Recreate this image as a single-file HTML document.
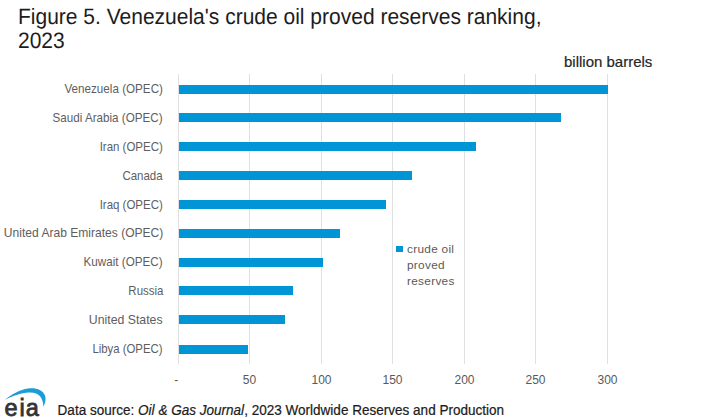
<!DOCTYPE html>
<html><head><meta charset="utf-8"><style>
html,body{margin:0;padding:0;background:#fff;width:718px;height:418px;overflow:hidden;position:relative;font-family:"Liberation Sans",sans-serif}
.t{position:absolute;left:18px;font-size:21px;color:#1c1c1c;white-space:nowrap;line-height:24px;transform:scale(1,1.06);transform-origin:0 19px;text-rendering:geometricPrecision}
.gl{position:absolute;top:74px;height:290px;width:1px;background:#e0e0e0}
.bar{position:absolute;left:179px;height:9px;background:#0096d6}
.cl{position:absolute;right:555px;font-size:11.6px;line-height:18px;color:#5e5e5e;white-space:nowrap;text-align:right;transform:scale(1,1.05);transform-origin:100% 13px}
.tk{position:absolute;top:373px;width:40px;text-align:center;font-size:12px;line-height:14px;color:#595959}
.bb{position:absolute;left:564px;top:53px;font-size:15px;line-height:18px;color:#262626;white-space:nowrap;-webkit-text-stroke:0.2px #262626}
.lg{position:absolute;left:396px;top:246px;width:7px;height:6px;background:#0096d6}
.lt{position:absolute;left:407px;top:240.5px;font-size:11.8px;line-height:16.2px;color:#595959;letter-spacing:0.3px}
.ft{position:absolute;left:57.6px;top:403px;font-size:13.54px;line-height:16px;color:#1c1c1c;white-space:nowrap;transform:scale(1,1.12);transform-origin:0 13px;-webkit-text-stroke:0.2px #1c1c1c}
</style></head><body>
<div class="t" style="top:6px">Figure 5. Venezuela's crude oil proved reserves ranking,</div>
<div class="t" style="top:30.2px">2023</div>
<div class="bb">billion barrels</div>
<div class="gl" style="left:178px"></div>
<div class="gl" style="left:249px"></div>
<div class="gl" style="left:321px"></div>
<div class="gl" style="left:392px"></div>
<div class="gl" style="left:464px"></div>
<div class="gl" style="left:535px"></div>
<div class="gl" style="left:607px"></div>
<div class="bar" style="top:85px;width:429px"></div>
<div class="cl" style="top:80.20px;transform:scale(1.006,1.05)">Venezuela (OPEC)</div>
<div class="bar" style="top:113px;width:382px"></div>
<div class="cl" style="top:109.03px;transform:scale(1.004,1.05)">Saudi Arabia (OPEC)</div>
<div class="bar" style="top:142px;width:297px"></div>
<div class="cl" style="top:137.86px;transform:scale(0.99,1.05)">Iran (OPEC)</div>
<div class="bar" style="top:171px;width:233px"></div>
<div class="cl" style="top:166.69px;transform:scale(0.99,1.05)">Canada</div>
<div class="bar" style="top:200px;width:207px"></div>
<div class="cl" style="top:195.52px;transform:scale(0.99,1.05)">Iraq (OPEC)</div>
<div class="bar" style="top:229px;width:161px"></div>
<div class="cl" style="top:224.35px;transform:scale(1.04,1.05)">United Arab Emirates (OPEC)</div>
<div class="bar" style="top:258px;width:144px"></div>
<div class="cl" style="top:253.18px;transform:scale(1.006,1.05)">Kuwait (OPEC)</div>
<div class="bar" style="top:286px;width:114px"></div>
<div class="cl" style="top:282.01px;transform:scale(0.99,1.05)">Russia</div>
<div class="bar" style="top:315px;width:106px"></div>
<div class="cl" style="top:310.84px;transform:scale(1.06,1.05)">United States</div>
<div class="bar" style="top:345px;width:69px"></div>
<div class="cl" style="top:339.67px;transform:scale(0.98,1.05)">Libya (OPEC)</div>
<div class="tk" style="left:156.2px">-</div>
<div class="tk" style="left:229.5px">50</div>
<div class="tk" style="left:301.5px">100</div>
<div class="tk" style="left:372.5px">150</div>
<div class="tk" style="left:444.5px">200</div>
<div class="tk" style="left:515.5px">250</div>
<div class="tk" style="left:587.5px">300</div>
<div class="lg"></div>
<div class="lt">crude oil<br>proved<br>reserves</div>
<svg style="position:absolute;left:0;top:384px" width="50" height="34" viewBox="0 384 50 34">
<path d="M4.8,399.9 C12,394 20,389.6 28,388.5 C36,387.5 43.2,390 45.2,396 C46.2,399.5 45,403.5 43.4,406.8 C43.3,403 42.6,399.6 40.4,396.8 C37.8,393.4 34,392.4 29,392.6 C21,393 12,396.2 4.8,399.9 Z" fill="#1e9cd8"/>
<g font-family="Liberation Sans" font-size="23.5" fill="#333" stroke="#333" stroke-width="0.8">
<text x="4.6" y="415.6">e</text>
<text x="19.6" y="415.6">i</text>
<text x="25.8" y="415.6">a</text>
</g>
</svg>
<div class="ft">Data source: <i>Oil &amp; Gas Journal</i>, 2023 Worldwide Reserves and Production</div>
</body></html>
